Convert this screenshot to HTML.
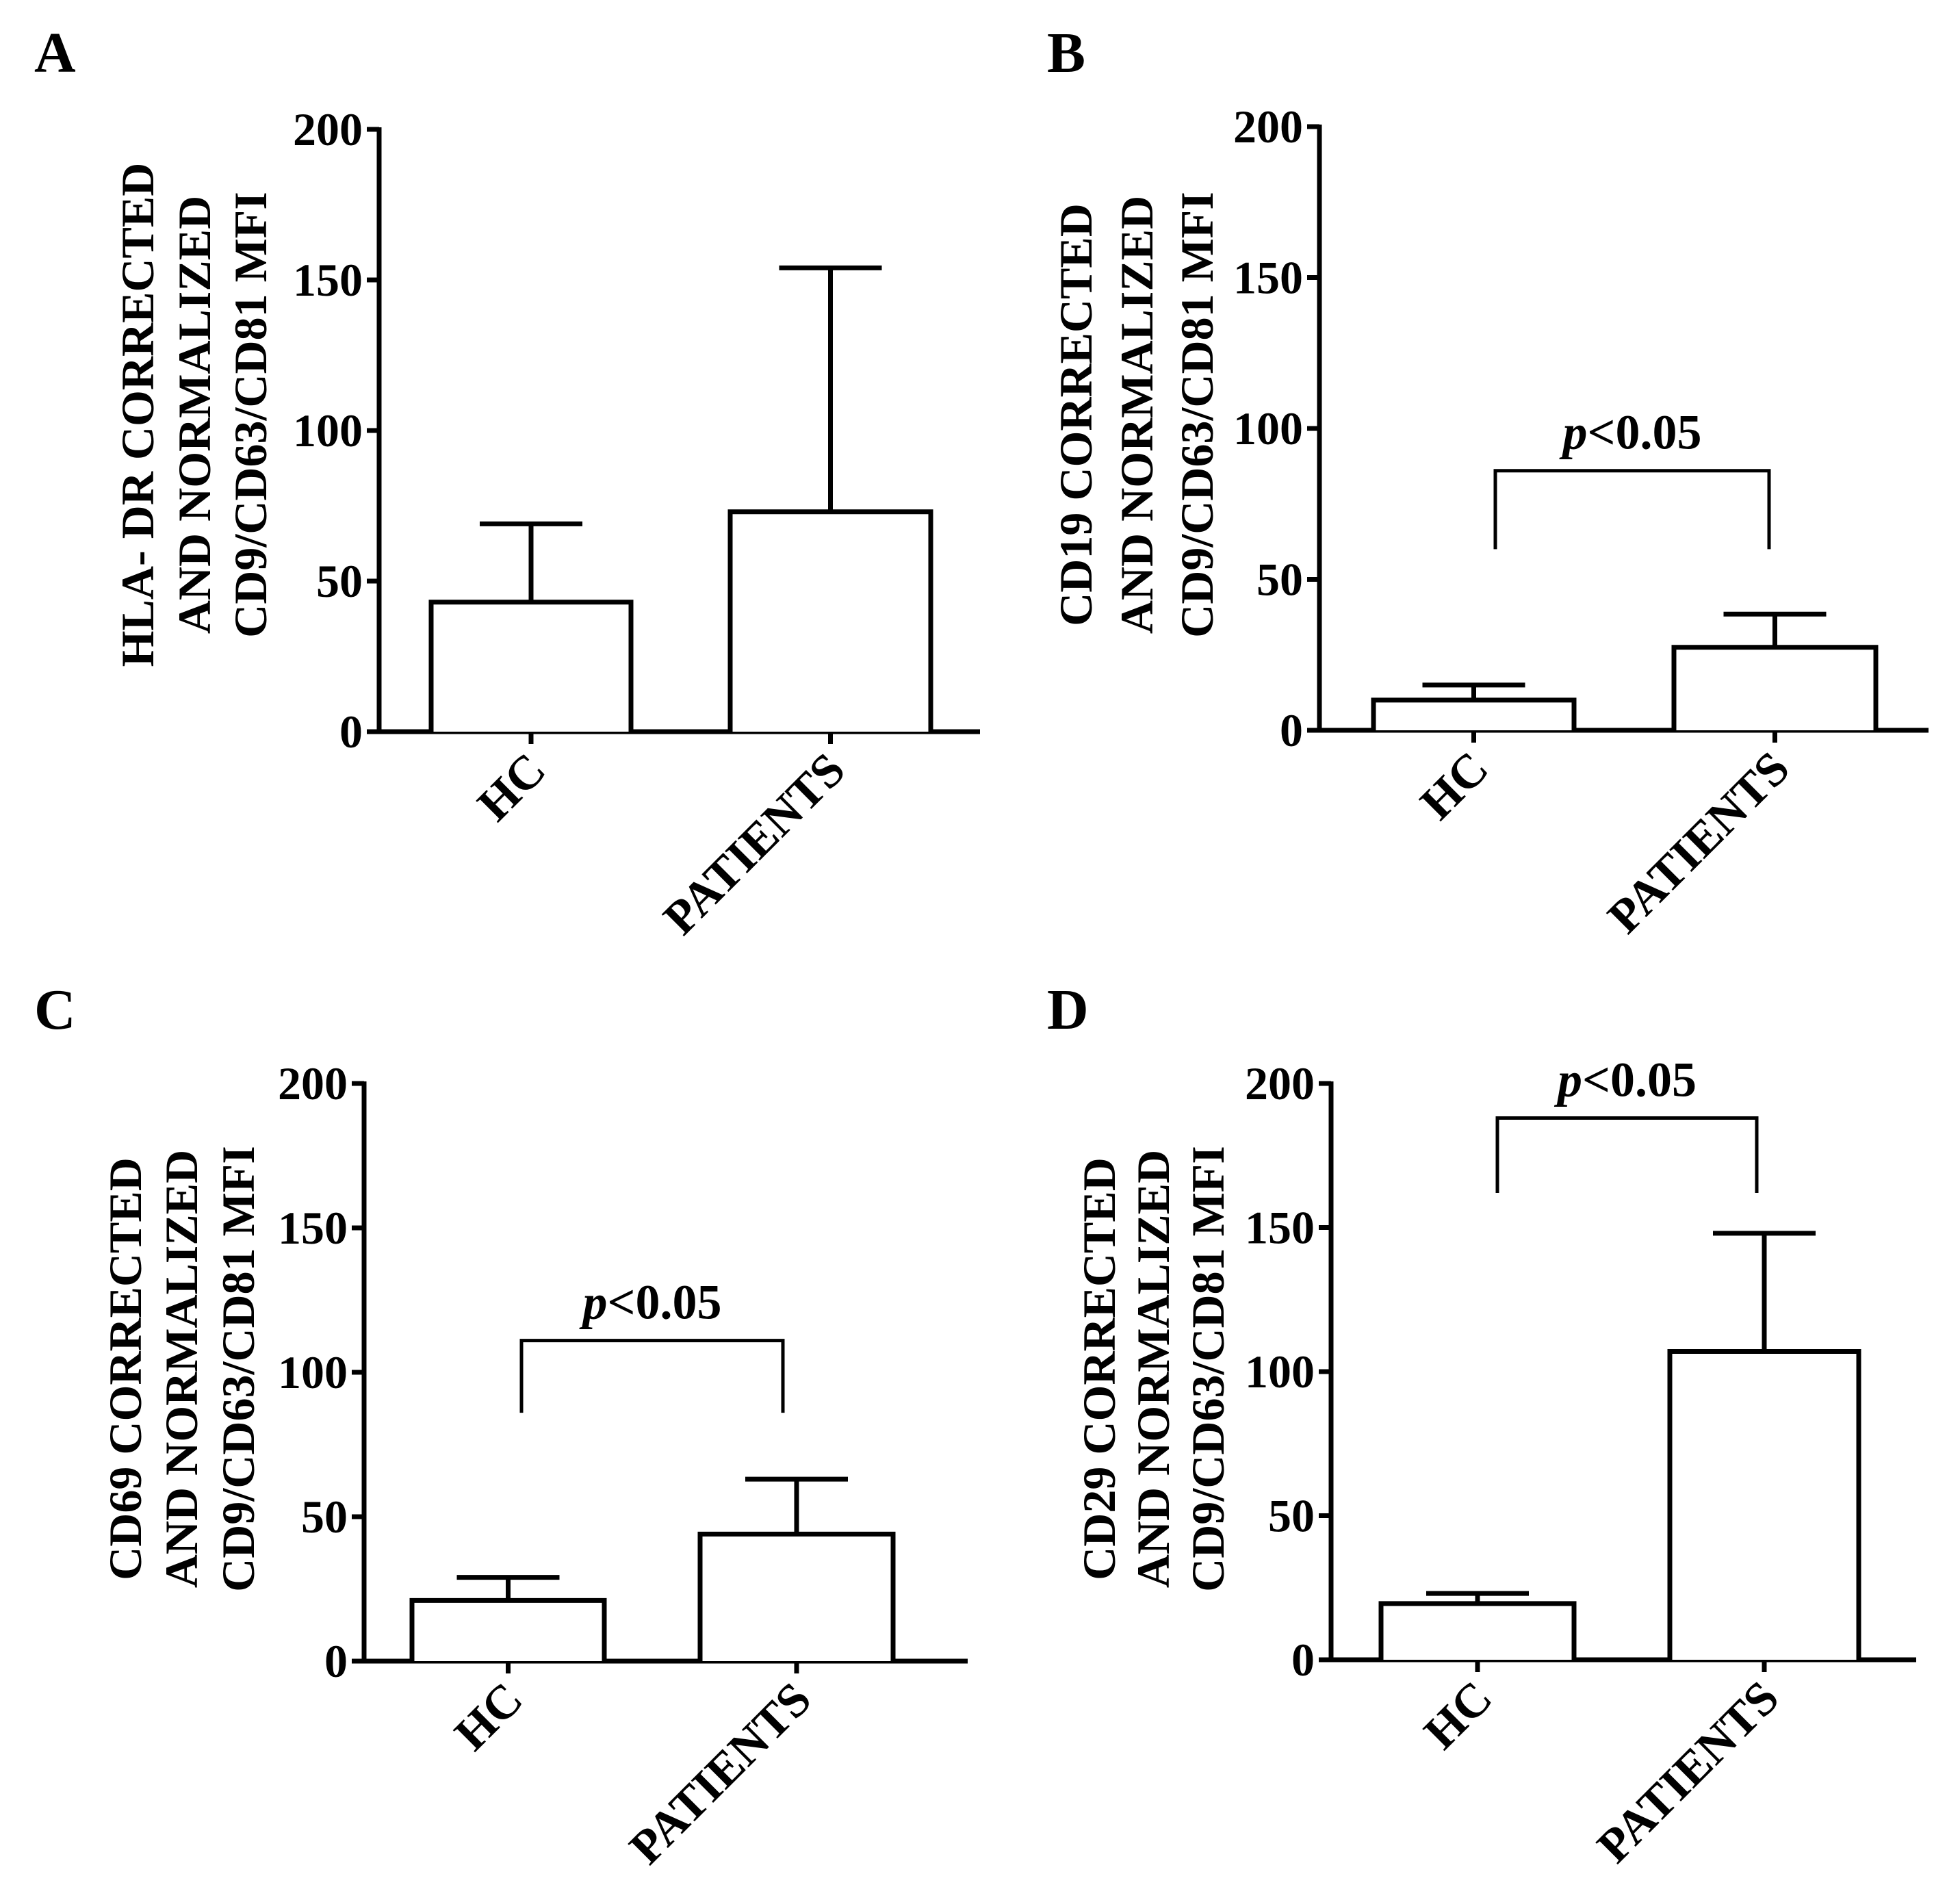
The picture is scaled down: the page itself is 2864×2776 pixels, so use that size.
<!DOCTYPE html>
<html><head><meta charset="utf-8">
<style>
html,body{margin:0;padding:0;background:#fff;}
svg{display:block;font-family:"Liberation Serif","Times New Roman",serif;font-weight:bold;}
</style></head>
<body>
<svg id="fig" width="2864" height="2776" viewBox="0 0 2864 2776" xmlns="http://www.w3.org/2000/svg"></svg>
<script>
const categories = ["HC", "PATIENTS"];
const yTicks = [0, 50, 100, 150, 200];
const meanA = [43, 73];
const errA = [69, 154];
const meanB = [10, 27.5];
const errB = [15, 38.5];
const meanC = [21, 44];
const errC = [29, 63];
const meanD = [19.5, 107];
const errD = [23, 148];
const sigB = [86, 60];
const sigC = [111, 86];
const sigD = [188, 162];

const panels = [
  {letter:"A", lx:50, ly:105, ax:554, top:189, bot:1069, xend:1432, bars:[[630,922],[1067,1360]],
   mean:meanA, err:errA, sig:null, titleX:[202,285,367], titleY:606,
   title:["HLA- DR CORRECTED","AND NORMALIZED","CD9/CD63/CD81 MFI"]},
  {letter:"B", lx:1530, ly:105, ax:1928, top:185, bot:1067, xend:2818, bars:[[2007,2300],[2446,2741]],
   mean:meanB, err:errB, sig:sigB, sigX:[2185,2585], titleX:[1573,1662,1750], titleY:606,
   title:["CD19 CORRECTED","AND NORMALIZED","CD9/CD63/CD81 MFI"]},
  {letter:"C", lx:50, ly:1503, ax:532, top:1583, bot:2427, xend:1414, bars:[[602,883],[1023,1305]],
   mean:meanC, err:errC, sig:sigC, sigX:[762,1144], titleX:[184,266,349], titleY:2000,
   title:["CD69 CORRECTED","AND NORMALIZED","CD9/CD63/CD81 MFI"]},
  {letter:"D", lx:1530, ly:1503, ax:1945, top:1583, bot:2425, xend:2800, bars:[[2018,2300],[2440,2716]],
   mean:meanD, err:errD, sig:sigD, sigX:[2188,2567], titleX:[1607,1686,1766], titleY:2000,
   title:["CD29 CORRECTED","AND NORMALIZED","CD9/CD63/CD81 MFI"]}
];

const svg = document.getElementById('fig');
const NS = "http://www.w3.org/2000/svg";
function mk(tag, attrs, parent){
  const e = document.createElementNS(NS, tag);
  for (const k in attrs) e.setAttribute(k, attrs[k]);
  parent.appendChild(e);
  return e;
}
const LW = 7;
panels.forEach(p => {
  const g = mk('g', {}, svg);
  
  
  const y = v => p.bot - (v / 200) * (p.bot - p.top);
  const lt = mk('text', {x:p.lx, y:p.ly, 'font-size':84}, g);
  lt.textContent = p.letter;
  
  
  const ya = mk('line', {x1:p.ax, y1:p.top-3, x2:p.ax, y2:p.bot+3, stroke:'#000','stroke-width':LW}, g);
  
  
  const xa = mk('line', {x1:p.ax-18, y1:p.bot, x2:p.xend, y2:p.bot, stroke:'#000','stroke-width':LW}, g);
  
  
  yTicks.forEach(t => {
    const tk = mk('line', {x1:p.ax-18, y1:y(t), x2:p.ax, y2:y(t), stroke:'#000','stroke-width':LW}, g);
    
    
    const tl = mk('text', {x:p.ax-24, y:y(t)+23, 'font-size':68, 'text-anchor':'end'}, g);
    tl.textContent = t;
    
    
  });
  p.title.forEach((line, i) => {
    const tt = mk('text', {x:0, y:0, 'font-size':68, 'text-anchor':'middle',
      transform:`translate(${p.titleX[i]+22},${p.titleY}) rotate(-90)`}, g);
    tt.textContent = line;
    
    
  });
  categories.forEach((c, i) => {
    const [x0, x1] = p.bars[i];
    const cx = (x0 + x1) / 2;
    const eb = mk('line', {x1:cx, y1:y(p.mean[i]), x2:cx, y2:y(p.err[i]), stroke:'#000','stroke-width':LW}, g);
    
    
    const cap = mk('line', {x1:cx-75, y1:y(p.err[i]), x2:cx+75, y2:y(p.err[i]), stroke:'#000','stroke-width':LW}, g);
    
    
    const b = mk('path', {d:`M${x0},${p.bot} V${y(p.mean[i])} H${x1} V${p.bot}`, fill:'#fff', stroke:'#000','stroke-width':LW}, g);
    
    
    const tk = mk('line', {x1:cx, y1:p.bot, x2:cx, y2:p.bot+18, stroke:'#000','stroke-width':LW}, g);
    
    
    const cl = mk('text', {x:0, y:0, 'font-size':70, 'text-anchor':'end',
      transform:`translate(${cx+25},${p.bot+60}) rotate(-45)`}, g);
    cl.textContent = c;
    
    
  });
  if (p.sig) {
    const [xa1, xa2] = p.sigX;
    const br = mk('path', {d:`M${xa1},${y(p.sig[1])} V${y(p.sig[0])} H${xa2} V${y(p.sig[1])}`, fill:'none', stroke:'#000','stroke-width':5}, g);
    
    
    const st = mk('text', {x:(xa1+xa2)/2, y:y(p.sig[0])-32, 'font-size':72, 'text-anchor':'middle'}, g);
    st.innerHTML = '<tspan font-style="italic">p</tspan>&lt;0.05';
    
    
  }
});
</script>
</body></html>
